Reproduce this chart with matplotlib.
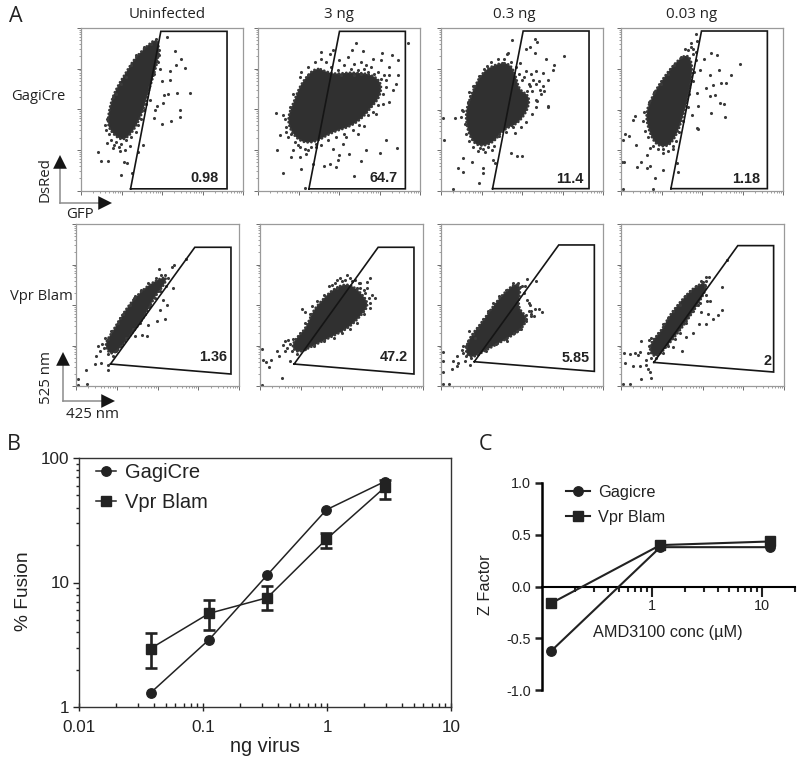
import matplotlib
matplotlib.use("Agg")
import matplotlib.pyplot as plt
import numpy as np
from matplotlib.lines import Line2D
from matplotlib.ticker import NullFormatter, FixedLocator

W, H = 800, 768

# flow panels, values are channel numbers (0-487 on both axes, 4 decades)
titles = ["Uninfected", "3 ng", "0.3 ng", "0.03 ng"]
gate_pct_top = ["0.98", "64.7", "11.4", "1.18"]
gate_pct_bot = ["1.36", "47.2", "5.85", "2"]

gagi_uninf_blob = [(222,447),(232,422),(227,382),(212,332),(197,282),(182,232),(162,192),(147,172),(127,157),(102,172),(82,202),(92,262),(107,302),(137,352),(162,392),(197,427)]
gagi_uninf_pts = [(260,460),(284,417),(302,394),(285,375),(313,367),(267,359),(237,365),(242,327),(267,332),(249,287),(262,289),(290,292),(328,292),(247,262),(298,242),(298,221),(272,207),(242,200),(219,217),(207,272),(227,252),(222,242),(187,135),(172,114),(154,52),(120,45),(129,84),(137,82),(82,89),(60,89),(52,115),(77,142),(97,127),(117,117),(132,122),(147,132),(227,402),(235,422)]
gagi_uninf_fringe = [(78,215),(72,195),(85,170),(75,180),(90,150),(105,145),(120,140),(135,150),(150,160),(165,175),(100,135),(115,130),(95,280),(105,290),(120,320),(135,340),(150,375),(165,405),(190,430),(210,440),(225,455),(235,405),(230,385),(220,350),(205,310),(195,260),(190,240),(180,215),(170,195)]

gagi_3_blob = [(175,365),(210,350),(235,345),(275,350),(335,345),(365,320),(360,280),(335,250),(310,220),(275,195),(225,180),(175,150),(135,150),(105,180),(95,220),(115,270),(135,320)]
gagi_3_pts = [(295,443),(450,443),(282,422),(315,418),(372,413),(403,405),(420,390),(422,347),(415,320),(395,265),(355,230),(320,192),(385,150),(418,127),(368,112),(325,120),(310,87),(290,43),(275,110),(255,140),(245,105),(240,90),(215,80),(197,72),(165,80),(130,65),(75,53),(100,100),(57,122),(65,165),(85,175),(55,233),(75,225),(190,415),(215,410),(225,420),(270,400),(245,390),(345,395),(370,390),(325,375),(395,370),(385,330),(405,300),(375,260),(225,125),(235,70),(140,7),(105,120),(125,100),(145,110),(175,130),(300,170),(265,160)]
gagi_3_fringe = [(150,370),(170,385),(190,395),(205,385),(220,370),(240,360),(260,375),(280,365),(300,360),(320,365),(340,370),(360,355),(380,345),(395,345),(350,350),(330,355),(290,380),(310,385),(250,345),(370,335),(385,310),(375,290),(360,255),(345,235),(330,225),(305,195),(285,180),(260,170),(235,160),(210,150),(190,135),(160,130),(140,125),(125,130),(110,145),(90,160),(85,190),(80,215),(95,250),(105,290),(125,340),(130,355),(120,135),(150,120),(175,140),(100,170),(150,345),(290,345),(310,350)]

gagi_03_blob = [(177,378),(207,373),(222,340),(232,300),(262,283),(257,243),(227,203),(187,188),(157,148),(112,138),(87,173),(77,233),(97,293),(127,353)]
gagi_03_pts = [(282,453),(289,445),(212,451),(267,431),(257,425),(315,395),(339,377),(369,403),(337,363),(322,333),(307,353),(287,358),(257,358),(237,383),(202,413),(282,413),(322,253),(322,251),(287,273),(297,303),(267,313),(242,333),(222,173),(210,113),(227,105),(242,106),(162,83),(155,93),(127,68),(127,55),(115,23),(37,6),(67,58),(50,70),(67,98),(92,88),(9,151),(7,218),(42,218),(62,243),(87,283),(97,313),(137,373),(197,408),(277,333),(307,313),(132,118),(117,128),(152,123)]
gagi_03_fringe = [(65,240),(60,220),(72,200),(75,170),(85,150),(95,130),(110,120),(125,125),(140,130),(160,135),(175,165),(195,175),(215,190),(240,190),(255,205),(275,230),(285,250),(290,270),(300,290),(310,300),(275,300),(265,320),(250,340),(260,300),(235,350),(225,370),(210,385),(190,395),(170,395),(150,385),(130,365),(115,345),(100,315),(85,295),(80,265),(285,320),(270,350),(295,330)]

gagi_003_blob = [(197,403),(212,373),(207,313),(187,233),(167,173),(142,138),(107,143),(87,183),(77,233),(97,283),(127,333),(167,383)]
gagi_003_pts = [(224,468),(209,443),(227,448),(192,423),(217,423),(272,413),(290,405),(250,393),(357,378),(294,363),(332,348),(237,363),(267,348),(317,323),(302,323),(277,318),(257,308),(227,293),(282,288),(267,283),(297,263),(309,261),(272,233),(314,221),(232,253),(212,228),(232,185),(227,188),(167,83),(172,56),(127,63),(102,38),(97,5),(5,5),(2,86),(9,86),(59,88),(47,73),(77,68),(87,76),(7,153),(12,171),(25,165),(37,213),(42,223),(45,136),(77,108),(87,128),(127,113),(157,133)]
gagi_003_fringe = [(70,235),(65,210),(72,180),(80,160),(95,135),(110,125),(125,125),(140,120),(155,125),(165,150),(175,175),(185,210),(200,250),(205,290),(215,330),(220,355),(225,390),(215,410),(200,420),(180,400),(160,375),(140,350),(120,320),(100,295),(85,265),(225,415),(210,430)]

vpr_uninf_blob = [(261,324),(266,309),(231,264),(201,204),(166,159),(131,114),(106,99),(89,129),(111,164),(146,224),(181,269),(221,304)]
vpr_uninf_pts = [(248,352),(286,359),(293,364),(329,382),(266,334),(276,324),(289,294),(261,259),(271,244),(251,229),(266,202),(216,184),(241,194),(196,154),(211,149),(176,149),(173,264),(131,204),(86,144),(66,119),(71,104),(61,89),(56,66),(76,69),(96,49),(96,64),(31,47),(6,22),(34,6),(6,4)]
vpr_uninf_fringe = [(95,95),(110,90),(85,115),(78,125),(95,140),(105,165),(125,190),(140,215),(160,245),(175,270),(195,290),(215,310),(240,325),(255,335),(270,300),(250,285),(235,265),(220,240),(205,215),(190,190),(170,170),(150,145),(135,120),(120,105)]

vpr_3_blob = [(220,289),(260,304),(295,279),(320,244),(300,214),(260,174),(210,149),(160,124),(120,104),(100,119),(110,144),(140,174),(160,224),(185,254)]
vpr_3_pts = [(260,334),(330,326),(320,314),(295,309),(270,324),(240,324),(225,309),(345,264),(335,274),(330,249),(125,231),(135,221),(230,294),(290,294),(310,289),(75,136),(85,139),(70,122),(75,104),(50,106),(58,89),(90,74),(7,111),(8,79),(32,77),(17,71),(28,57),(66,23),(7,4)]
vpr_3_fringe = [(230,320),(245,315),(255,320),(275,315),(300,295),(315,280),(325,265),(330,235),(310,215),(290,190),(270,170),(245,160),(220,145),(190,135),(160,120),(135,110),(110,95),(95,105),(80,115),(90,125),(100,140),(120,160),(135,190),(150,215),(155,240),(170,255),(190,275),(205,300),(215,305),(300,310),(285,320),(320,295)]

vpr_03_blob = [(222,304),(237,289),(227,234),(257,204),(237,169),(187,139),(132,109),(97,89),(77,104),(87,144),(127,194),(162,244),(192,279)]
vpr_03_pts = [(259,321),(285,317),(237,299),(252,301),(267,242),(282,232),(295,231),(303,223),(270,224),(257,214),(272,209),(257,194),(199,136),(227,164),(84,165),(67,119),(5,101),(7,74),(5,42),(5,6),(24,6),(34,51),(37,74),(49,89),(52,69),(72,74),(87,64),(47,59),(62,109),(102,144)]
vpr_03_fringe = [(230,310),(245,300),(250,280),(260,260),(265,225),(255,200),(240,170),(220,160),(195,140),(165,125),(135,105),(110,95),(90,85),(75,90),(65,100),(75,120),(80,135),(95,155),(110,175),(125,200),(140,225),(155,250),(175,270),(195,290),(215,310),(265,250),(270,215),(280,210)]

vpr_003_blob = [(246,307),(251,287),(226,242),(186,182),(146,132),(111,92),(91,102),(91,132),(126,172),(146,212),(186,262),(216,292)]
vpr_003_pts = [(253,327),(264,327),(301,298),(316,380),(246,312),(256,257),(266,255),(231,242),(301,229),(289,212),(276,202),(259,215),(254,187),(234,187),(214,160),(194,147),(181,104),(156,117),(239,222),(61,134),(84,139),(56,102),(51,92),(8,100),(28,95),(41,99),(11,70),(36,60),(56,60),(74,62),(81,50),(88,42),(89,25),(61,20),(76,77),(6,5),(28,5)]
vpr_003_fringe = [(255,315),(240,315),(225,300),(205,285),(190,270),(175,245),(155,225),(140,205),(125,185),(110,160),(90,145),(85,120),(82,100),(90,85),(105,85),(125,100),(140,120),(160,140),(175,160),(195,190),(215,225),(235,250),(255,275),(250,300)]

gate_top = [[(149,5),(240,477),(439,477),(439,5)],
            [(153,5),(245,477),(443,477),(443,5)],
            [(155,7),(247,478),(445,478),(445,7)],
            [(150,7),(242,478),(440,478),(440,7)]]
gate_bot = [[(103,66),(355,417),(463,417),(463,36)],
            [(102,66),(353,417),(460,417),(460,36)],
            [(100,73),(354,424),(461,424),(461,44)],
            [(98,71),(349,422),(456,422),(456,42)]]

# panel B
virus_ng = [0.0378, 0.112, 0.33, 0.99, 2.92]
gagi_fusion = [1.30, 3.48, 11.5, 38.4, 64.7]
vpr_fusion = [2.95, 5.65, 7.55, 22.3, 58]
vpr_low = [2.07, 4.12, 5.96, 18.9, 46.8]
vpr_high = [3.9, 7.2, 9.3, 25, 66.7]

# panel C
amd_conc = [0.122, 1.19, 11.8]
gagi_z = [-0.62, 0.38, 0.38]
vpr_z = [-0.16, 0.40, 0.435]

plt.rcParams["font.family"] = ["Liberation Sans", "DejaVu Sans"]
fig = plt.figure(figsize=(W / 100, H / 100), dpi=100)


def px_axes(l, t, r, b):
    return fig.add_axes([l / W, 1 - b / H, (r - l) / W, (b - t) / H])


def smooth_outline(blob, n=3):
    # corner cutting, the cloud has no straight edges
    p = np.array(blob, dtype=float)
    c = p.mean(axis=0)
    p = c + (p - c) * 1.05
    for _ in range(n):
        q = np.roll(p, -1, axis=0)
        p = np.column_stack([0.75 * p + 0.25 * q, 0.25 * p + 0.75 * q]).reshape(-1, 2)
    return np.vstack([p, p[0]])


minor = [d * 121.75 + np.log10(k) * 121.75 for d in range(4) for k in range(2, 10)]


def flow_panel(box, blob, pts, fringe, gate, pct, lx, ly):
    ax = px_axes(*box)
    ax.set_xlim(0, 487)
    ax.set_ylim(0, 487)
    outline = smooth_outline(blob)
    ax.fill(outline[:, 0], outline[:, 1], color="#303030", lw=0, zorder=2)
    # speckled edge of the dense cloud
    ax.plot(outline[:, 0], outline[:, 1], color="#383838", lw=2.0, ls=(0, (0.05, 1.3)), dash_capstyle="round", zorder=2)
    all_pts = pts + fringe
    ax.scatter([p[0] for p in all_pts], [p[1] for p in all_pts], s=5, color="#3a3a3a", lw=0, zorder=2)
    gx = [p[0] for p in gate] + [gate[0][0]]
    gy = [p[1] for p in gate] + [gate[0][1]]
    ax.plot(gx, gy, color="#151515", lw=1.2, zorder=3, solid_joinstyle="miter")
    ax.text(lx, ly, pct, ha="right", va="center", fontsize=10.4, fontweight="bold", color="#222222", zorder=4)
    for s in ax.spines.values():
        s.set_color("#9a9a9a")
        s.set_linewidth(0.9)
    ax.set_xticks([0, 121.75, 243.5, 365.25, 487])
    ax.set_yticks([0, 121.75, 243.5, 365.25, 487])
    ax.xaxis.set_minor_locator(FixedLocator(minor))
    ax.yaxis.set_minor_locator(FixedLocator(minor))
    ax.tick_params(which="major", length=3, width=0.6, color="#555555", labelbottom=False, labelleft=False, pad=1)
    ax.tick_params(which="minor", length=1.5, width=0.4, color="#555555")
    return ax


boxes_top = [(81, 28, 243, 190.5), (258, 28, 420, 190.5), (441, 28, 603, 191), (621, 28, 783, 191)]
boxes_bot = [(76, 224, 239, 386), (260, 224, 423, 386), (441, 224, 603, 386), (621, 224, 784, 386)]
blobs_top = [gagi_uninf_blob, gagi_3_blob, gagi_03_blob, gagi_003_blob]
pts_top = [gagi_uninf_pts, gagi_3_pts, gagi_03_pts, gagi_003_pts]
fringe_top = [gagi_uninf_fringe, gagi_3_fringe, gagi_03_fringe, gagi_003_fringe]
blobs_bot = [vpr_uninf_blob, vpr_3_blob, vpr_03_blob, vpr_003_blob]
pts_bot = [vpr_uninf_pts, vpr_3_pts, vpr_03_pts, vpr_003_pts]
fringe_bot = [vpr_uninf_fringe, vpr_3_fringe, vpr_03_fringe, vpr_003_fringe]
lx_top = [414, 420, 429, 420]
lx_bot = [451, 442, 448, 449]
ly_bot = [87, 87, 84, 75]

for i in range(4):
    flow_panel(boxes_top[i], blobs_top[i], pts_top[i], fringe_top[i], gate_top[i], gate_pct_top[i], lx_top[i], 37)
    flow_panel(boxes_bot[i], blobs_bot[i], pts_bot[i], fringe_bot[i], gate_bot[i], gate_pct_bot[i], lx_bot[i], ly_bot[i])

# panel B
axb = px_axes(79, 458, 451, 707)
axb.set_xscale("log")
axb.set_yscale("log")
axb.set_xlim(0.01, 10)
axb.set_ylim(1, 100)
axb.plot(virus_ng, gagi_fusion, "-o", color="#222222", lw=1.1, ms=6.8, zorder=3, clip_on=False)
vy = np.array(vpr_fusion)
err = [vy - np.array(vpr_low), np.array(vpr_high) - vy]
axb.errorbar(virus_ng, vpr_fusion, yerr=err, fmt="-s", color="#222222", lw=1.1, ms=6.5, elinewidth=1.9,
             capsize=4.4, capthick=1.9, zorder=3)
axb.set_xticks([0.01, 0.1, 1, 10], ["0.01", "0.1", "1", "10"])
axb.set_yticks([1, 10, 100], ["1", "10", "100"])
axb.xaxis.set_minor_locator(FixedLocator([k * 10.0 ** d for d in (-2, -1, 0) for k in range(2, 10)]))
axb.yaxis.set_minor_locator(FixedLocator([k * 10.0 ** d for d in (0, 1) for k in range(2, 10)]))
axb.xaxis.set_minor_formatter(NullFormatter())
axb.yaxis.set_minor_formatter(NullFormatter())
axb.tick_params(axis="x", which="major", direction="inout", length=6, width=1, labelsize=12.3, pad=6, color="#222222", labelcolor="#222222")
axb.tick_params(axis="x", which="minor", direction="in", length=3, width=1, color="#222222")
axb.tick_params(axis="y", which="major", direction="out", length=4, width=1, labelsize=12.3, pad=3, color="#222222", labelcolor="#222222")
axb.tick_params(axis="y", which="minor", direction="out", length=2.5, width=1, color="#222222")
for s in axb.spines.values():
    s.set_color("#333333")
    s.set_linewidth(1)
legend_b = [Line2D([], [], color="#222222", lw=1.1, marker="o", ms=6.8),
            Line2D([], [], color="#222222", lw=1.1, marker="s", ms=6.5)]
axb.legend(legend_b, ["GagiCre", "Vpr Blam"], loc="upper left", bbox_to_anchor=(96 / W, 1 - 463 / H),
           bbox_transform=fig.transFigure, frameon=False, fontsize=14.5, borderpad=0, borderaxespad=0,
           handlelength=1, handletextpad=0.45, labelspacing=0.55, labelcolor="#222222")

# panel C
axc = px_axes(542, 483, 795, 690)
axc.set_xscale("log")
axc.set_xlim(0.1, 20)
axc.set_ylim(-1, 1)
axc.plot(amd_conc, gagi_z, "-o", color="#222222", lw=1.5, ms=6.8, label="Gagicre", zorder=3, clip_on=False)
axc.plot(amd_conc, vpr_z, "-s", color="#222222", lw=1.5, ms=6.8, label="Vpr Blam", zorder=3, clip_on=False)
axc.spines["top"].set_visible(False)
axc.spines["right"].set_visible(False)
axc.spines["bottom"].set_position(("data", 0))
axc.spines["bottom"].set_linewidth(1.5)
axc.spines["left"].set_linewidth(1.8)
axc.set_xticks([1, 10], ["1", "10"])
axc.xaxis.set_minor_locator(FixedLocator([k * 0.1 for k in range(2, 10)] + list(range(2, 10)) + [20]))
axc.xaxis.set_minor_formatter(NullFormatter())
axc.set_yticks([-1, -0.5, 0, 0.5, 1], ["-1.0", "-0.5", "0.0", "0.5", "1.0"])
axc.tick_params(axis="x", which="major", length=7, width=1.5, labelsize=10.4, pad=2, color="#222222", labelcolor="#222222")
axc.tick_params(axis="x", which="minor", length=3.5, width=1.5, color="#222222")
axc.tick_params(axis="y", length=5, width=1.8, labelsize=10.4, pad=3, color="#222222", labelcolor="#222222")
h, l = axc.get_legend_handles_labels()
axc.legend(h, l, loc="upper left", bbox_to_anchor=(566 / W, 1 - 485 / H), bbox_transform=fig.transFigure, frameon=False,
           fontsize=11.7, borderpad=0, borderaxespad=0, handlelength=1.5, handletextpad=0.5, labelspacing=0.62,
           labelcolor="#222222")

# everything else is placed in figure pixels
ov = fig.add_axes([0, 0, 1, 1], zorder=10)
ov.set_xlim(0, W)
ov.set_ylim(H, 0)
ov.axis("off")

myriad = ["Open Sans", "DejaVu Sans"]
title_x = [167, 339, 514, 692]
for t, x in zip(titles, title_x):
    ov.text(x, 15, t, ha="center", va="center", fontsize=10.8, family=myriad, color="#222222")
ov.text(38, 96, "GagiCre", ha="center", va="center", fontsize=10.6, family=myriad, color="#222222")
ov.text(41, 297, "Vpr Blam", ha="center", va="center", fontsize=10.6, family=myriad, color="#222222")
ov.text(16, 17, "A", ha="center", va="center", fontsize=15.5, family=myriad, color="#222222")
ov.text(14, 444, "B", ha="center", va="center", fontsize=15.5, family=myriad, color="#222222")
ov.text(486, 444, "C", ha="center", va="center", fontsize=15.5, family=myriad, color="#222222")


def corner_arrows(x0, y0, x_up, x_right):
    ov.plot([x0, x0], [y0, x_up + 10], color="#8c8c8c", lw=1.1)
    ov.plot([x0, x_right - 10], [y0, y0], color="#8c8c8c", lw=1.1)
    ov.annotate("", xy=(x0, x_up), xytext=(x0, x_up + 13),
                arrowprops=dict(arrowstyle="-|>,head_length=0.9,head_width=0.45", color="#151515", lw=0,
                                mutation_scale=11, shrinkA=0, shrinkB=0))
    ov.annotate("", xy=(x_right, y0), xytext=(x_right - 13, y0),
                arrowprops=dict(arrowstyle="-|>,head_length=0.9,head_width=0.45", color="#151515", lw=0,
                                mutation_scale=11, shrinkA=0, shrinkB=0))


corner_arrows(60, 203, 155, 112)
corner_arrows(63, 401, 352, 115)
ov.text(45, 180, "DsRed", rotation=90, ha="center", va="center", fontsize=10.8, family=myriad, color="#222222")
ov.text(80, 214, "GFP", ha="center", va="center", fontsize=10.8, family=myriad, color="#222222")
ov.text(46, 377, "525 nm", rotation=90, ha="center", va="center", fontsize=10.8, family=myriad, color="#222222")
ov.text(92, 415, "425 nm", ha="center", va="center", fontsize=10.8, family=myriad, color="#222222")

ov.text(265, 746, "ng virus", ha="center", va="center", fontsize=14.4, color="#222222")
ov.text(23, 591, "% Fusion", rotation=90, ha="center", va="center", fontsize=13.8, color="#222222")
ov.text(485, 585, "Z Factor", rotation=90, ha="center", va="center", fontsize=11.7, color="#222222")
ov.text(668, 632, "AMD3100 conc (µM)", ha="center", va="center", fontsize=11.7, color="#222222")

fig.savefig("out.png", dpi=100)
